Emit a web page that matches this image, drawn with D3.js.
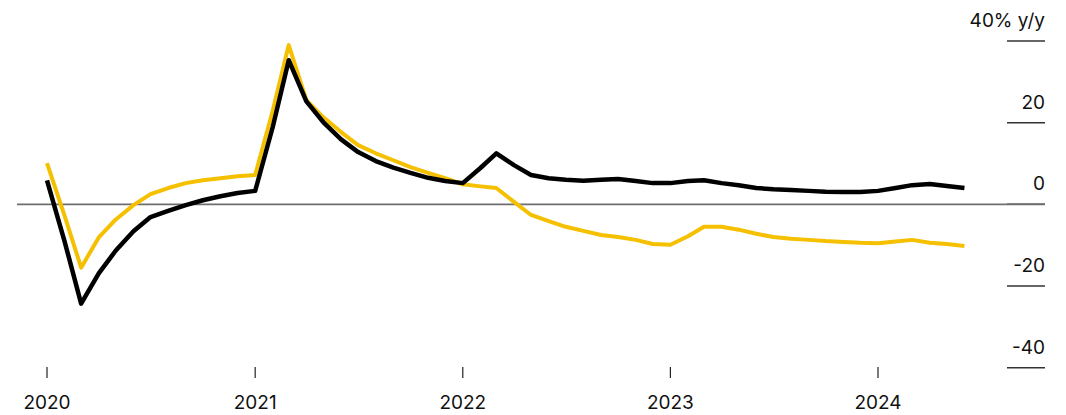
<!DOCTYPE html>
<html>
<head>
<meta charset="utf-8">
<script src="https://cdn.jsdelivr.net/npm/d3@7"></script>
<style>
  html, body { margin: 0; padding: 0; background: #fff; }
  #chart { width: 1066px; height: 415px; }
  text { font-family: Inter, "Liberation Sans", Arial, sans-serif; fill: #111; }
</style>
</head>
<body>
<div id="chart"></div>
<script>
document.addEventListener("DOMContentLoaded", function () {
  const width = 1066;
  const height = 415;

  // Monthly data, January 2020 to June 2024
  const startMonth = new Date(2020, 0, 1);
  const blackSeries = [
    5.9, -9.1, -24.3, -16.9, -11.3, -6.6, -3.1, -1.6, -0.2, 1.0, 2.0, 2.8,
    3.3, 19.0, 35.3, 25.2, 20.1, 15.9, 12.8, 10.6, 9.0, 7.7, 6.5, 5.7,
    5.2, 8.9, 12.5, 9.6, 7.2, 6.4, 6.0, 5.8, 6.0, 6.2, 5.7, 5.2,
    5.2, 5.7, 5.9, 5.2, 4.7, 4.0, 3.7, 3.5, 3.3, 3.1, 3.0, 3.0,
    3.3, 4.0, 4.7, 5.0, 4.5, 4.0
  ];
  const yellowSeries = [
    10.1, -2.8, -15.5, -8.1, -3.7, -0.2, 2.5, 4.0, 5.2, 5.9, 6.4, 6.9,
    7.2, 23.0, 39.0, 25.5, 21.3, 17.7, 14.5, 12.5, 10.8, 9.1, 7.7, 6.4,
    4.9, 4.4, 4.0, 0.6, -2.6, -4.1, -5.5, -6.5, -7.5, -8.0, -8.7, -9.7,
    -9.9, -7.8, -5.5, -5.5, -6.2, -7.2, -8.0, -8.4, -8.7, -9.0, -9.2, -9.4,
    -9.5, -9.1, -8.7, -9.4, -9.7, -10.2
  ];
  const yTicks = [40, 20, 0, -20, -40];
  const yTickLabels = ["40% y/y", "20", "0", "-20", "-40"];
  const xTickYears = [2020, 2021, 2022, 2023, 2024];

  const svg = d3.select("#chart")
    .append("svg")
    .attr("width", width)
    .attr("height", height)
    .attr("viewBox", [0, 0, width, height]);

  const x = d3.scaleTime()
    .domain([new Date(2020, 0, 1), new Date(2024, 0, 1)])
    .range([47, 878]);

  const y = d3.scaleLinear()
    .domain([-40, 40])
    .range([367.7, 41]);

  const toPoints = values => values.map((v, i) => ({ date: d3.timeMonth.offset(startMonth, i), value: v }));

  // Right axis: short rules with labels sitting above them
  const yAxis = svg.append("g").attr("class", "y-axis");
  yAxis.selectAll("line")
    .data(yTicks)
    .enter().append("line")
    .attr("x1", 1007)
    .attr("x2", 1045)
    .attr("y1", d => y(d))
    .attr("y2", d => y(d))
    .attr("stroke", "#333")
    .attr("stroke-width", 1.5);

  yAxis.selectAll("text")
    .data(yTicks)
    .enter().append("text")
    .attr("x", 1045)
    .attr("y", d => y(d) - 14)
    .attr("text-anchor", "end")
    .style("font-size", "19px")
    .text((d, i) => yTickLabels[i]);

  // Zero line
  svg.append("line")
    .attr("x1", 17)
    .attr("x2", 1045)
    .attr("y1", y(0))
    .attr("y2", y(0))
    .attr("stroke", "#6e6e6e")
    .attr("stroke-width", 1.8);

  // Bottom axis: ticks and year labels
  const xAxis = svg.append("g").attr("class", "x-axis");
  xAxis.selectAll("line")
    .data(xTickYears)
    .enter().append("line")
    .attr("x1", d => x(new Date(d, 0, 1)))
    .attr("x2", d => x(new Date(d, 0, 1)))
    .attr("y1", 367)
    .attr("y2", 378)
    .attr("stroke", "#222")
    .attr("stroke-width", 1.2);

  xAxis.selectAll("text")
    .data(xTickYears)
    .enter().append("text")
    .attr("x", d => x(new Date(d, 0, 1)))
    .attr("y", 409)
    .attr("text-anchor", "middle")
    .style("font-size", "19px")
    .text(d => d);

  const line = d3.line()
    .x(d => x(d.date))
    .y(d => y(d.value));

  svg.append("path")
    .datum(toPoints(yellowSeries))
    .attr("fill", "none")
    .attr("stroke", "#f5c000")
    .attr("stroke-width", 4)
    .attr("stroke-linejoin", "round")
    .attr("d", line);

  svg.append("path")
    .datum(toPoints(blackSeries))
    .attr("fill", "none")
    .attr("stroke", "#000")
    .attr("stroke-width", 4.5)
    .attr("stroke-linejoin", "round")
    .attr("d", line);
});
</script>
</body>
</html>
